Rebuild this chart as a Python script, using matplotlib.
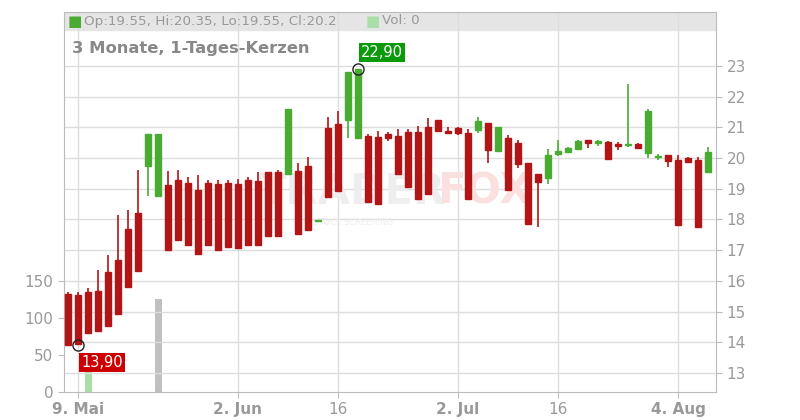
import matplotlib.pyplot as plt
from matplotlib.patches import Rectangle

# candles: open, high, low, close
opens = [15.57, 15.54, 15.64, 15.67, 16.29, 16.68, 17.69, 18.21, 19.74, 18.77,
         19.12, 19.29, 19.19, 18.96, 19.19, 19.16, 19.19, 19.16, 19.29, 19.25,
         19.55, 19.55, 19.48, 19.58, 19.74, 17.95, 20.98, 21.11, 21.24, 20.65,
         20.72, 20.69, 20.79, 20.72, 20.85, 20.85, 21.01, 21.24, 20.88, 20.98,
         20.82, 20.92, 21.14, 20.23, 20.65, 20.49, 19.84, 19.48, 19.35, 20.13,
         20.20, 20.30, 20.59, 20.49, 20.52, 20.46, 20.43, 20.46, 20.17, 20.04,
         20.10, 19.94, 20.00, 19.94, 19.55]
highs = [15.64, 15.64, 15.77, 16.36, 16.84, 18.15, 18.31, 19.61, 20.79, 20.79,
         19.58, 19.61, 19.38, 19.45, 19.29, 19.29, 19.29, 19.32, 19.38, 19.55,
         19.55, 19.61, 21.60, 19.84, 20.04, 17.95, 21.34, 21.53, 22.80, 22.90,
         20.79, 20.88, 20.85, 20.95, 20.95, 21.05, 21.31, 21.24, 21.01, 21.01,
         20.95, 21.34, 21.14, 21.01, 20.75, 20.59, 19.84, 19.48, 20.30, 20.59,
         20.36, 20.59, 20.59, 20.59, 20.56, 20.52, 22.41, 20.49, 21.60, 20.13,
         20.10, 20.10, 20.04, 20.04, 20.35]
lows = [13.91, 13.90, 14.30, 14.37, 14.53, 14.92, 15.80, 16.32, 18.77, 18.73,
        17.01, 17.33, 17.17, 16.88, 17.17, 17.01, 17.10, 17.07, 17.17, 17.17,
        17.46, 17.46, 19.48, 17.53, 17.66, 17.95, 18.73, 18.93, 20.65, 20.62,
        18.57, 18.50, 20.56, 19.48, 19.06, 18.67, 18.83, 20.85, 20.82, 20.75,
        18.67, 20.82, 19.84, 20.23, 18.96, 19.68, 17.85, 17.76, 19.16, 20.07,
        20.17, 20.26, 20.33, 20.39, 19.97, 20.26, 20.36, 20.33, 20.00, 19.94,
        19.71, 17.82, 19.84, 17.76, 19.55]
closes = [13.91, 13.93, 14.30, 14.37, 14.53, 14.92, 15.80, 16.32, 20.79, 20.79,
          17.01, 17.33, 17.17, 16.88, 17.17, 17.01, 17.10, 17.07, 17.17, 17.17,
          17.46, 17.46, 21.60, 17.53, 17.66, 17.95, 18.73, 18.93, 22.80, 22.90,
          18.57, 18.50, 20.65, 19.48, 19.06, 18.67, 18.83, 20.88, 20.82, 20.82,
          18.67, 21.21, 20.26, 21.01, 18.96, 19.81, 17.85, 19.22, 20.10, 20.23,
          20.33, 20.56, 20.49, 20.56, 19.97, 20.39, 20.46, 20.33, 21.53, 20.07,
          19.91, 17.82, 19.87, 17.76, 20.20]
vol_idx = [2, 9]
vol_vals = [32, 125]
vol_colors = ['#a9dea9', '#c0c0c0']
tick_idx = [1, 17, 27, 39, 49, 61]
tick_labels = ['9. Mai', '2. Jun', '16', '2. Jul', '16', '4. Aug']

GREEN = '#4aab33'
RED = '#b21516'
GREY = '#999999'

fig = plt.figure(figsize=(8, 4.2), dpi=100)
rect = [64 / 800, 28 / 420, 652 / 800, 380 / 420]
ax_v = fig.add_axes(rect)
ax = fig.add_axes(rect, facecolor='none')

xmin, xmax = -0.4, 64.8
# volume axis (left)
ax_v.bar(vol_idx, vol_vals, width=0.7, color=vol_colors)
ax_v.set_xlim(xmin, xmax)
ax_v.set_ylim(0, 513)
ax_v.set_yticks([0, 50, 100, 150])
ax_v.set_xticks([])
ax_v.tick_params(axis='y', colors='#bbbbbb', labelcolor=GREY, labelsize=11, length=4)
for s in ax_v.spines.values():
    s.set_visible(False)

# price axis (right)
ax.set_xlim(xmin, xmax)
ax.set_ylim(12.38, 24.76)
ax.yaxis.tick_right()
ax.set_yticks(range(13, 24))
ax.tick_params(axis='y', colors='#bbbbbb', labelcolor=GREY, labelsize=11, length=4)
ax.set_xticks(tick_idx)
ax.set_xticklabels(tick_labels)
ax.tick_params(axis='x', colors='#bbbbbb', labelcolor=GREY, labelsize=11, length=4)
for lbl in ax.get_xticklabels():
    if lbl.get_text() != '16':
        lbl.set_fontweight('bold')
ax.grid(color='#dddddd', linewidth=1)
ax.set_axisbelow(True)
for s in ax.spines.values():
    s.set_color('#bbbbbb')

# header band
ax.add_patch(Rectangle((0, 1 - 18 / 380), 1, 18 / 380, transform=ax.transAxes,
                       color='#e5e5e5', zorder=0.5))

# faint watermark
ax.text(19.0, 18.9, 'TRADER', fontsize=30, fontweight='bold', color='#eeeeee',
        ha='left', va='center', zorder=0.6)
ax.text(36.9, 18.9, 'FOX', fontsize=30, fontweight='bold', color='#fbe0e0',
        ha='left', va='center', zorder=0.6)
ax.text(24.5, 17.9, 'STOCK SCREENING', fontsize=6, color='#eeeeee',
        ha='left', va='center', zorder=0.6)

for i, (o, h, l, c) in enumerate(zip(opens, highs, lows, closes)):
    col = GREEN if c >= o else RED
    ax.vlines(i, l, h, color=col, linewidth=1.2, zorder=2)
    bottom = min(o, c)
    height = max(abs(c - o), 0.03)
    ax.add_patch(Rectangle((i - 0.34, bottom), 0.68, height, color=col, zorder=3))

# extreme markers
lo_i = lows.index(min(lows))
hi_i = highs.index(max(highs))
ax.plot([lo_i], [lows[lo_i]], 'o', mfc='none', mec='#222222', ms=8, zorder=4)
ax.plot([hi_i], [highs[hi_i]], 'o', mfc='none', mec='#222222', ms=8, zorder=4)
ax.text(lo_i + 0.3, lows[lo_i] - 0.55, f'{lows[lo_i]:.2f}'.replace('.', ','),
        color='white', fontsize=10.5, ha='left', va='center', zorder=5,
        bbox=dict(boxstyle='square,pad=0.15', fc='#cc0000', ec='none'))
ax.text(hi_i + 0.3, highs[hi_i] + 0.55, f'{highs[hi_i]:.2f}'.replace('.', ','),
        color='white', fontsize=10.5, ha='left', va='center', zorder=5,
        bbox=dict(boxstyle='square,pad=0.15', fc='#0a9a0a', ec='none'))

# header texts
fig.text(68 / 800, 1 - 21 / 420, '\u25a0', color=GREEN, fontsize=11, va='center')
fig.text(84 / 800, 1 - 21 / 420,
         f'Op:{opens[-1]}, Hi:{highs[-1]}, Lo:{lows[-1]}, Cl:{closes[-1]}',
         color=GREY, fontsize=9.7, va='center')
fig.text(366 / 800, 1 - 21 / 420, '\u25a0', color='#a9dea9', fontsize=11, va='center')
fig.text(382 / 800, 1 - 21 / 420, 'Vol: 0', color=GREY, fontsize=9.7, va='center')
fig.text(72 / 800, 1 - 48 / 420, '3 Monate, 1-Tages-Kerzen', color='#888888',
         fontsize=11.8, fontweight='bold', va='center')

plt.savefig('out.png')
